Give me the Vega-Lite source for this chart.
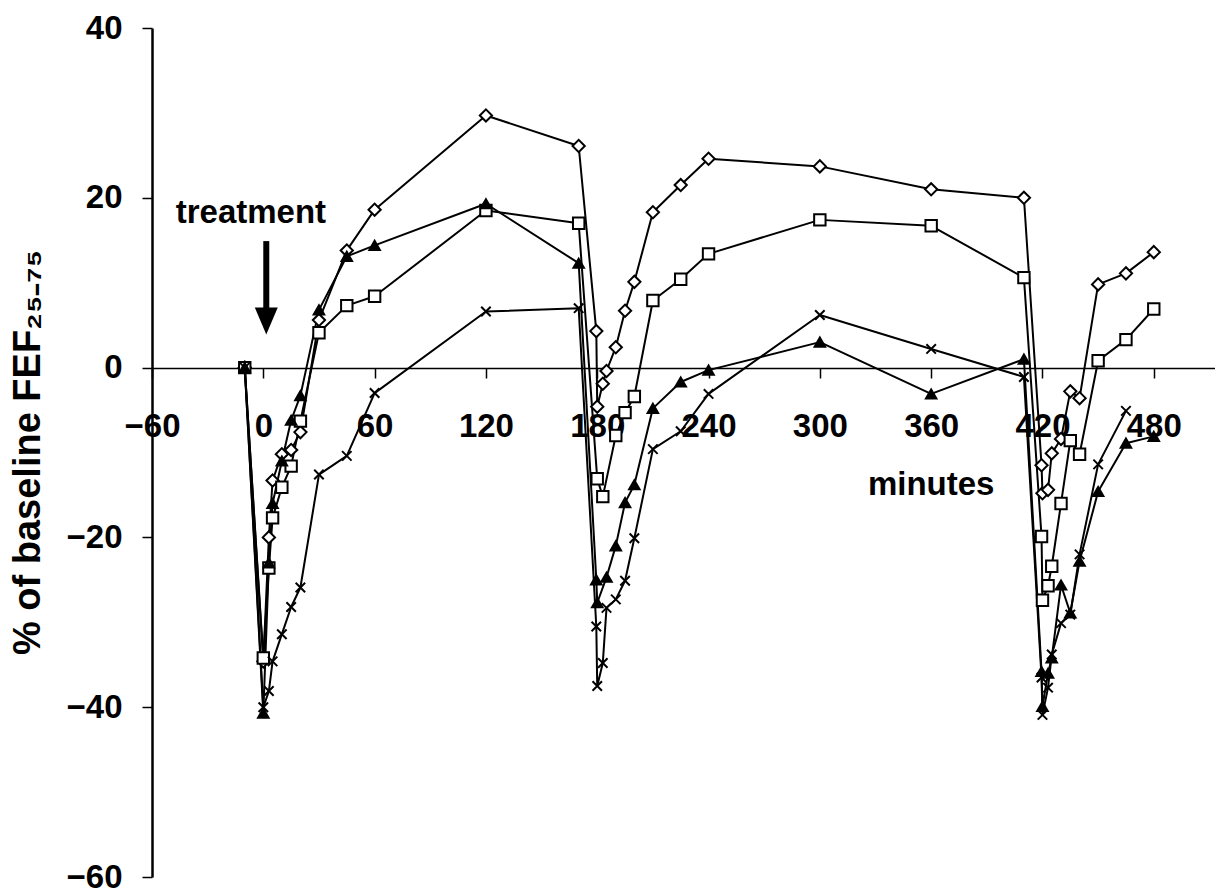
{
  "$schema": "https://vega.github.io/schema/vega-lite/v6.json",
  "width": 1063,
  "height": 849,
  "autosize": {"type": "none"},
  "padding": {"left": 152, "top": 28, "right": 0, "bottom": 16},
  "background": "white",
  "config": {"view": {"stroke": null}, "font": "Liberation Sans"},
  "datasets": {
    "fef": [
      {"s":"S1","t":-10,"v":0},{"s":"S1","t":0,"v":-34.6},{"s":"S1","t":3,"v":-20},{"s":"S1","t":5,"v":-13.3},{"s":"S1","t":10,"v":-10.2},{"s":"S1","t":15,"v":-9.7},{"s":"S1","t":20,"v":-7.6},{"s":"S1","t":30,"v":5.6},{"s":"S1","t":45,"v":13.8},{"s":"S1","t":60,"v":18.6},{"s":"S1","t":120,"v":29.7},{"s":"S1","t":170,"v":26.1},{"s":"S1","t":179.5,"v":4.3},{"s":"S1","t":180,"v":-4.6},{"s":"S1","t":183,"v":-1.9},{"s":"S1","t":185,"v":-0.4},{"s":"S1","t":190,"v":2.4},{"s":"S1","t":195,"v":6.7},{"s":"S1","t":200,"v":10.1},{"s":"S1","t":210,"v":18.3},{"s":"S1","t":225,"v":21.5},{"s":"S1","t":240,"v":24.6},{"s":"S1","t":300,"v":23.7},{"s":"S1","t":360,"v":21.0},{"s":"S1","t":410,"v":20.0},{"s":"S1","t":419.5,"v":-11.5},{"s":"S1","t":420,"v":-14.8},{"s":"S1","t":423,"v":-14.4},{"s":"S1","t":425,"v":-10.1},{"s":"S1","t":430,"v":-8.4},{"s":"S1","t":435,"v":-2.8},{"s":"S1","t":440,"v":-3.6},{"s":"S1","t":450,"v":9.8},{"s":"S1","t":465,"v":11.1},{"s":"S1","t":480,"v":13.6},
      {"s":"S2","t":-10,"v":0},{"s":"S2","t":0,"v":-34.2},{"s":"S2","t":3,"v":-23.6},{"s":"S2","t":5,"v":-17.7},{"s":"S2","t":10,"v":-14.1},{"s":"S2","t":15,"v":-11.6},{"s":"S2","t":20,"v":-6.3},{"s":"S2","t":30,"v":4.1},{"s":"S2","t":45,"v":7.3},{"s":"S2","t":60,"v":8.4},{"s":"S2","t":120,"v":18.5},{"s":"S2","t":170,"v":17.0},{"s":"S2","t":180,"v":-13.1},{"s":"S2","t":183,"v":-15.2},{"s":"S2","t":190,"v":-8.0},{"s":"S2","t":195,"v":-5.3},{"s":"S2","t":200,"v":-3.4},{"s":"S2","t":210,"v":7.9},{"s":"S2","t":225,"v":10.4},{"s":"S2","t":240,"v":13.4},{"s":"S2","t":300,"v":17.4},{"s":"S2","t":360,"v":16.7},{"s":"S2","t":410,"v":10.6},{"s":"S2","t":419.5,"v":-19.9},{"s":"S2","t":420,"v":-27.4},{"s":"S2","t":423,"v":-25.7},{"s":"S2","t":425,"v":-23.4},{"s":"S2","t":430,"v":-16.0},{"s":"S2","t":435,"v":-8.6},{"s":"S2","t":440,"v":-10.2},{"s":"S2","t":450,"v":0.8},{"s":"S2","t":465,"v":3.3},{"s":"S2","t":480,"v":6.9},
      {"s":"S3","t":-10,"v":0},{"s":"S3","t":0,"v":-40.7},{"s":"S3","t":3,"v":-23},{"s":"S3","t":5,"v":-16},{"s":"S3","t":10,"v":-11},{"s":"S3","t":15,"v":-6.2},{"s":"S3","t":20,"v":-3.3},{"s":"S3","t":30,"v":6.8},{"s":"S3","t":45,"v":13.1},{"s":"S3","t":60,"v":14.4},{"s":"S3","t":120,"v":19.3},{"s":"S3","t":170,"v":12.3},{"s":"S3","t":179.5,"v":-25},{"s":"S3","t":180,"v":-27.7},{"s":"S3","t":185,"v":-24.7},{"s":"S3","t":190,"v":-21.0},{"s":"S3","t":195,"v":-15.9},{"s":"S3","t":200,"v":-13.8},{"s":"S3","t":210,"v":-4.8},{"s":"S3","t":225,"v":-1.7},{"s":"S3","t":240,"v":-0.3},{"s":"S3","t":300,"v":3.0},{"s":"S3","t":360,"v":-3.1},{"s":"S3","t":410,"v":1.0},{"s":"S3","t":419.5,"v":-35.8},{"s":"S3","t":420,"v":-39.9},{"s":"S3","t":423,"v":-36.0},{"s":"S3","t":425,"v":-34.2},{"s":"S3","t":430,"v":-25.6},{"s":"S3","t":435,"v":-28.9},{"s":"S3","t":440,"v":-22.8},{"s":"S3","t":450,"v":-14.6},{"s":"S3","t":465,"v":-8.9},{"s":"S3","t":480,"v":-8.1},
      {"s":"S4","t":-10,"v":0},{"s":"S4","t":0,"v":-40},{"s":"S4","t":3,"v":-38.1},{"s":"S4","t":5,"v":-34.6},{"s":"S4","t":10,"v":-31.4},{"s":"S4","t":15,"v":-28.2},{"s":"S4","t":20,"v":-25.9},{"s":"S4","t":30,"v":-12.6},{"s":"S4","t":45,"v":-10.4},{"s":"S4","t":60,"v":-3.0},{"s":"S4","t":120,"v":6.6},{"s":"S4","t":170,"v":7.0},{"s":"S4","t":179.5,"v":-30.5},{"s":"S4","t":180,"v":-37.5},{"s":"S4","t":183,"v":-34.8},{"s":"S4","t":185,"v":-28.3},{"s":"S4","t":190,"v":-27.3},{"s":"S4","t":195,"v":-25.1},{"s":"S4","t":200,"v":-20.1},{"s":"S4","t":210,"v":-9.6},{"s":"S4","t":225,"v":-7.5},{"s":"S4","t":240,"v":-3.1},{"s":"S4","t":300,"v":6.2},{"s":"S4","t":360,"v":2.2},{"s":"S4","t":410,"v":-1.1},{"s":"S4","t":419.5,"v":-36.5},{"s":"S4","t":420,"v":-40.9},{"s":"S4","t":423,"v":-37.7},{"s":"S4","t":425,"v":-33.8},{"s":"S4","t":430,"v":-30.1},{"s":"S4","t":435,"v":-29.1},{"s":"S4","t":440,"v":-22.0},{"s":"S4","t":450,"v":-11.4},{"s":"S4","t":465,"v":-5.1}
    ],
    "notes": [
      {"kind":"label","t":-6.7,"v":17,"text":"treatment"},
      {"kind":"label","t":360,"v":-15,"text":"minutes"},
      {"kind":"shaft","t":1.6,"v":14.9,"v2":6.8},
      {"kind":"head","t":1.6,"v":5.5}
    ]
  },
  "layer": [
    {
      "data": {"name": "fef"},
      "mark": {"type": "line", "color": "black", "strokeJoin": "round"},
      "encoding": {
        "x": {
          "field": "t", "type": "quantitative",
          "scale": {"domain": [-60, 513], "nice": false, "zero": false},
          "axis": {
            "values": [-60, 0, 60, 120, 180, 240, 300, 360, 420, 480],
            "offset": -509,
            "title": null, "grid": false,
            "tickSize": 10, "tickWidth": 1.5, "tickColor": "black",
            "domainColor": "black", "domainWidth": 1.5,
            "labelFont": "Liberation Sans", "labelFontWeight": "bold", "labelFontSize": 33,
            "labelColor": "black", "labelPadding": 32, "labelOverlap": false, "labelFlush": false
          }
        },
        "y": {
          "field": "v", "type": "quantitative",
          "scale": {"domain": [-60, 40], "nice": false, "zero": false},
          "axis": {
            "values": [-60, -40, -20, 0, 20, 40],
            "grid": false,
            "tickSize": 10, "tickWidth": 1.5, "tickColor": "black",
            "domainColor": "black", "domainWidth": 2.5,
            "labelFont": "Liberation Sans", "labelFontWeight": "bold", "labelFontSize": 33,
            "labelColor": "black", "labelPadding": 20, "labelOverlap": false, "labelFlush": false,
            "title": "% of baseline FEF₂₅₋₇₅",
            "titleFont": "Liberation Sans", "titleFontWeight": "bold", "titleFontSize": 38,
            "titleColor": "black", "titleX": -124, "titleY": 424, "titleAngle": -90,
            "titleAlign": "center", "titleBaseline": "middle"
          }
        },
        "detail": {"field": "s"},
        "strokeWidth": {"field": "s", "type": "nominal", "scale": {"domain": ["S1","S2","S3","S4"], "range": [2, 2, 3, 1]}, "legend": null}
      }
    },
    {
      "data": {"name": "fef"},
      "mark": {"type": "point", "filled": true, "stroke": "black", "opacity": 1},
      "encoding": {
        "x": {"field": "t", "type": "quantitative"},
        "y": {"field": "v", "type": "quantitative"},
        "shape": {"field": "s", "type": "nominal", "scale": {"domain": ["S1","S2","S3","S4"], "range": ["diamond", "square", "triangle-up", "M-1,-1L1,1M-1,1L1,-1"]}, "legend": null},
        "size": {"field": "s", "type": "nominal", "scale": {"domain": ["S1","S2","S3","S4"], "range": [150, 90, 110, 110]}, "legend": null},
        "fill": {"field": "s", "type": "nominal", "scale": {"domain": ["S1","S2","S3","S4"], "range": ["white", "white", "black", "transparent"]}, "legend": null},
        "strokeWidth": {"field": "s", "type": "nominal", "scale": {"domain": ["S1","S2","S3","S4"], "range": [1.5, 1.5, 1, 1]}, "legend": null}
      }
    },
    {
      "data": {"name": "notes"},
      "transform": [{"filter": "datum.kind === 'shaft'"}],
      "mark": {"type": "rule", "color": "black", "strokeWidth": 6, "strokeCap": "butt"},
      "encoding": {
        "x": {"field": "t", "type": "quantitative"},
        "y": {"field": "v", "type": "quantitative"},
        "y2": {"field": "v2"}
      }
    },
    {
      "data": {"name": "notes"},
      "transform": [{"filter": "datum.kind === 'head'"}],
      "mark": {"type": "point", "filled": true, "color": "black", "opacity": 1, "shape": "M-0.85,-1L0.85,-1L0,1Z", "size": 729},
      "encoding": {
        "x": {"field": "t", "type": "quantitative"},
        "y": {"field": "v", "type": "quantitative"}
      }
    },
    {
      "data": {"name": "notes"},
      "transform": [{"filter": "datum.kind === 'label'"}],
      "mark": {"type": "text", "font": "Liberation Sans", "fontWeight": "bold", "fontSize": 33, "color": "black", "align": "center", "baseline": "alphabetic"},
      "encoding": {
        "x": {"field": "t", "type": "quantitative"},
        "y": {"field": "v", "type": "quantitative"},
        "text": {"field": "text"}
      }
    }
  ]
}
